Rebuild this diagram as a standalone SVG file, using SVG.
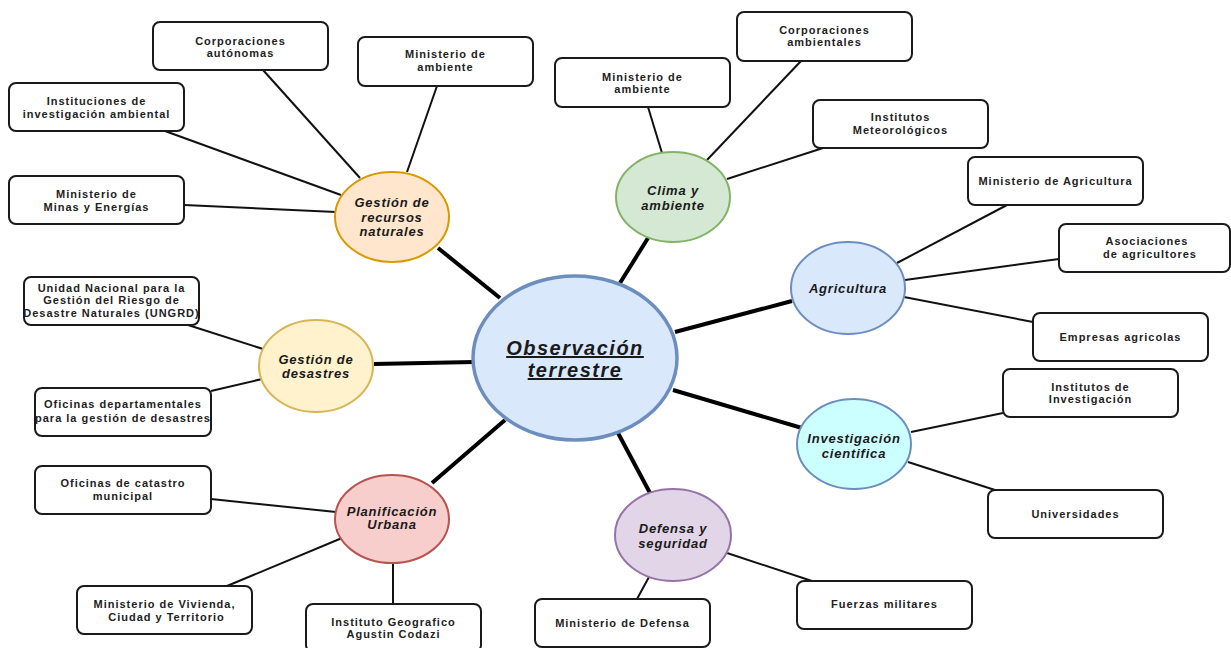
<svg xmlns="http://www.w3.org/2000/svg" width="1231" height="648" viewBox="0 0 1231 648">
<style>
.bg{fill:#ffffff}
.box{fill:#ffffff;stroke:#1a1a1a;stroke-width:2}
.bt{font-family:"Liberation Sans",Arial,sans-serif;font-size:11px;font-weight:bold;fill:#222222;text-anchor:middle;letter-spacing:1px}
.et{font-family:"Liberation Sans",Arial,sans-serif;font-size:13px;font-weight:bold;font-style:italic;fill:#1a1a1a;text-anchor:middle;letter-spacing:0.8px}
.ct{font-family:"Liberation Sans",Arial,sans-serif;font-size:20px;font-weight:bold;font-style:italic;fill:#1a1a1a;text-anchor:middle;letter-spacing:1.5px;text-decoration:underline}
.thin{stroke:#111111;stroke-width:2;fill:none}
.thick{stroke:#000000;stroke-width:4;fill:none}
</style>
<rect class="bg" x="0" y="0" width="1231" height="648"/>
<g id="connectors">
  <line class="thick" x1="500" y1="298" x2="438" y2="248"/>
  <line class="thick" x1="620" y1="283" x2="648" y2="238"/>
  <line class="thick" x1="675" y1="332" x2="792" y2="301"/>
  <line class="thick" x1="673" y1="390" x2="802" y2="428"/>
  <line class="thick" x1="618" y1="433" x2="650" y2="493"/>
  <line class="thick" x1="505" y1="420" x2="432" y2="483"/>
  <line class="thick" x1="474" y1="362" x2="374" y2="364"/>
  <line class="thin" x1="263" y1="70" x2="360" y2="178"/>
  <line class="thin" x1="437" y1="86" x2="407" y2="172"/>
  <line class="thin" x1="165" y1="131" x2="341" y2="195"/>
  <line class="thin" x1="184" y1="205" x2="336" y2="212"/>
  <line class="thin" x1="648" y1="107" x2="662" y2="153"/>
  <line class="thin" x1="801" y1="61" x2="707" y2="160"/>
  <line class="thin" x1="823" y1="148" x2="727" y2="179"/>
  <line class="thin" x1="1007" y1="205" x2="897" y2="263"/>
  <line class="thin" x1="1059" y1="259" x2="905" y2="280"/>
  <line class="thin" x1="1033" y1="322" x2="904" y2="297"/>
  <line class="thin" x1="1003" y1="413" x2="911" y2="432"/>
  <line class="thin" x1="995" y1="490" x2="908" y2="462"/>
  <line class="thin" x1="637" y1="599" x2="649" y2="577"/>
  <line class="thin" x1="812" y1="581" x2="727" y2="553"/>
  <line class="thin" x1="211" y1="499" x2="336" y2="512"/>
  <line class="thin" x1="227" y1="586" x2="342" y2="538"/>
  <line class="thin" x1="393" y1="563" x2="393" y2="604"/>
  <line class="thin" x1="188" y1="325" x2="263" y2="349"/>
  <line class="thin" x1="211" y1="391" x2="262" y2="379"/>
</g>
<g id="observacion">
  <ellipse cx="575" cy="358" rx="102" ry="82" fill="#dae8fc" stroke="#6c8ebf" stroke-width="3.5"/>
  <text class="ct" x="575" y="355">Observación</text>
  <text class="ct" x="575" y="377">terrestre</text>
</g>
<g id="gestion-recursos">
  <ellipse cx="392" cy="217" rx="57" ry="45" fill="#ffe6cc" stroke="#d79b00" stroke-width="2"/>
  <text class="et" x="392" y="206.5">Gestión de</text>
  <text class="et" x="392" y="221.5">recursos</text>
  <text class="et" x="392" y="235.5">naturales</text>
</g>
<g id="gr-corporaciones">
  <rect class="box" x="153" y="22" width="175" height="48" rx="7"/>
  <text class="bt" x="240.5" y="45">Corporaciones</text>
  <text class="bt" x="240.5" y="57">autónomas</text>
</g>
<g id="gr-ministerio-ambiente">
  <rect class="box" x="358" y="37" width="175" height="49" rx="7"/>
  <text class="bt" x="445.5" y="58">Ministerio de</text>
  <text class="bt" x="445.5" y="71">ambiente</text>
</g>
<g id="gr-instituciones">
  <rect class="box" x="9" y="83" width="175" height="48" rx="7"/>
  <text class="bt" x="96.5" y="105">Instituciones de</text>
  <text class="bt" x="96.5" y="118">investigación ambiental</text>
</g>
<g id="gr-minas">
  <rect class="box" x="9" y="176" width="175" height="48" rx="7"/>
  <text class="bt" x="96.5" y="198">Ministerio de</text>
  <text class="bt" x="96.5" y="211">Minas y Energías</text>
</g>
<g id="clima">
  <ellipse cx="673" cy="197" rx="57" ry="45" fill="#d5e8d4" stroke="#82b366" stroke-width="2"/>
  <text class="et" x="673" y="194.5">Clima y</text>
  <text class="et" x="673" y="209.5">ambiente</text>
</g>
<g id="cl-ministerio-ambiente">
  <rect class="box" x="555" y="58" width="175" height="49" rx="7"/>
  <text class="bt" x="642.5" y="81">Ministerio de</text>
  <text class="bt" x="642.5" y="93">ambiente</text>
</g>
<g id="cl-corporaciones">
  <rect class="box" x="737" y="12" width="175" height="49" rx="7"/>
  <text class="bt" x="824.5" y="34">Corporaciones</text>
  <text class="bt" x="824.5" y="46">ambientales</text>
</g>
<g id="cl-institutos">
  <rect class="box" x="813" y="100" width="175" height="48" rx="7"/>
  <text class="bt" x="900.5" y="121">Institutos</text>
  <text class="bt" x="900.5" y="134">Meteorológicos</text>
</g>
<g id="agricultura">
  <ellipse cx="848" cy="288" rx="57" ry="46" fill="#dae8fc" stroke="#6c8ebf" stroke-width="2"/>
  <text class="et" x="848" y="292.5">Agricultura</text>
</g>
<g id="ag-ministerio">
  <rect class="box" x="968" y="157" width="175" height="48" rx="7"/>
  <text class="bt" x="1055.5" y="185">Ministerio de Agricultura</text>
</g>
<g id="ag-asociaciones">
  <rect class="box" x="1059" y="224" width="171" height="48" rx="7"/>
  <text class="bt" x="1147" y="245">Asociaciones</text>
  <text class="bt" x="1150" y="258">de agricultores</text>
</g>
<g id="ag-empresas">
  <rect class="box" x="1033" y="313" width="175" height="48" rx="7"/>
  <text class="bt" x="1120.5" y="341">Empresas agricolas</text>
</g>
<g id="investigacion">
  <ellipse cx="854" cy="444" rx="57" ry="45" fill="#ccffff" stroke="#6c8ebf" stroke-width="2"/>
  <text class="et" x="854" y="442.5">Investigación</text>
  <text class="et" x="854" y="457.5">cientifica</text>
</g>
<g id="in-institutos">
  <rect class="box" x="1003" y="369" width="175" height="48" rx="7"/>
  <text class="bt" x="1090.5" y="391">Institutos de</text>
  <text class="bt" x="1090.5" y="403">Investigación</text>
</g>
<g id="in-universidades">
  <rect class="box" x="988" y="490" width="175" height="48" rx="7"/>
  <text class="bt" x="1075.5" y="518">Universidades</text>
</g>
<g id="defensa">
  <ellipse cx="673" cy="535" rx="58" ry="46" fill="#e1d5e7" stroke="#9673a6" stroke-width="2"/>
  <text class="et" x="673" y="532.5">Defensa y</text>
  <text class="et" x="673" y="547.5">seguridad</text>
</g>
<g id="de-ministerio">
  <rect class="box" x="535" y="599" width="175" height="48" rx="7"/>
  <text class="bt" x="622.5" y="627">Ministerio de Defensa</text>
</g>
<g id="de-fuerzas">
  <rect class="box" x="797" y="581" width="175" height="48" rx="7"/>
  <text class="bt" x="884.5" y="608">Fuerzas militares</text>
</g>
<g id="planificacion">
  <ellipse cx="392" cy="519" rx="57" ry="44" fill="#f8cecc" stroke="#b85450" stroke-width="2"/>
  <text class="et" x="392" y="515.5">Planificación</text>
  <text class="et" x="392" y="528.5">Urbana</text>
</g>
<g id="pl-catastro">
  <rect class="box" x="35" y="466" width="176" height="48" rx="7"/>
  <text class="bt" x="123" y="487">Oficinas de catastro</text>
  <text class="bt" x="123" y="500">municipal</text>
</g>
<g id="pl-vivienda">
  <rect class="box" x="77" y="586" width="175" height="48" rx="7"/>
  <text class="bt" x="164.5" y="608">Ministerio de Vivienda,</text>
  <text class="bt" x="166.5" y="621">Ciudad y Territorio</text>
</g>
<g id="pl-igac">
  <rect class="box" x="306" y="604" width="175" height="48" rx="7"/>
  <text class="bt" x="393.5" y="626">Instituto Geografico</text>
  <text class="bt" x="393.5" y="638">Agustin Codazi</text>
</g>
<g id="gestion-desastres">
  <ellipse cx="316" cy="366" rx="57" ry="46" fill="#fff2cc" stroke="#d6b656" stroke-width="2"/>
  <text class="et" x="316" y="363.5">Gestión de</text>
  <text class="et" x="316" y="377.5">desastres</text>
</g>
<g id="gd-ungrd">
  <rect class="box" x="24" y="277" width="175" height="48" rx="7"/>
  <text class="bt" x="111.5" y="292">Unidad Nacional para la</text>
  <text class="bt" x="111.5" y="304">Gestión del Riesgo de</text>
  <text class="bt" x="111.5" y="317">Desastre Naturales (UNGRD)</text>
</g>
<g id="gd-oficinas">
  <rect class="box" x="35" y="388" width="176" height="48" rx="7"/>
  <text class="bt" x="123" y="408">Oficinas departamentales</text>
  <text class="bt" x="123" y="422">para la gestión de desastres</text>
</g>
</svg>
